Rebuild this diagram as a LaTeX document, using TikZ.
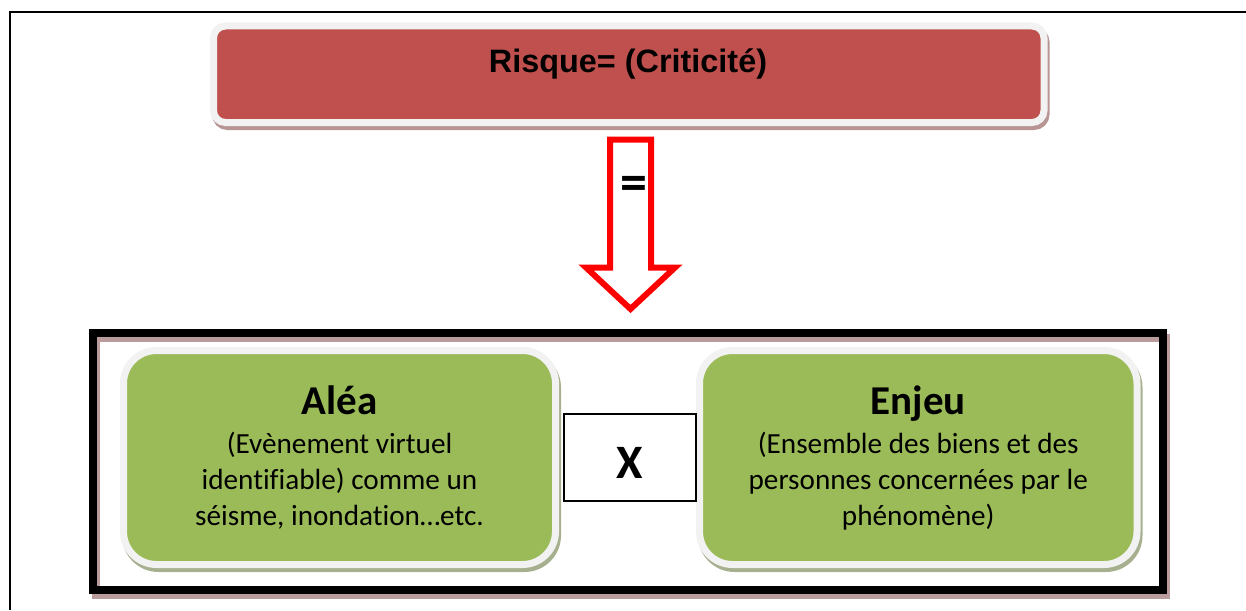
\documentclass[tikz,border=0pt]{standalone}
\usepackage{fontspec}
\setmainfont{Carlito}[Ligatures=NoCommon]
\newfontfamily\arialfont{Liberation Sans}
\usetikzlibrary{shadows}
\definecolor{rougebox}{HTML}{C0504D}
\definecolor{vertbox}{HTML}{9BBB59}
\definecolor{bord}{HTML}{F2F2F2}
\definecolor{ombrerouge}{HTML}{B89595}
\definecolor{ombreverte}{HTML}{A6B08E}
\definecolor{ombrecadre}{HTML}{BA9C9C}
\newcommand\titrevert{\fontsize{20.5}{24}\selectfont\bfseries}

\begin{document}
\begin{tikzpicture}[x=0.5pt, y=-0.5pt,
  boite/.style={draw=bord, line width=3.5pt, inner sep=0pt},
  risque/.style={boite, fill=rougebox, rounded corners=6pt, minimum width=415.25pt, minimum height=48.25pt,
    general shadow={draw=ombrerouge, fill=ombrerouge, line width=3.5pt, shadow xshift=1pt, shadow yshift=-2pt}},
  vert/.style={boite, fill=vertbox, rounded corners=16.5pt, minimum height=107pt, align=center,
    font=\fontsize{14.6}{18}\selectfont,
    general shadow={draw=ombreverte, fill=ombreverte, line width=3.5pt, shadow xshift=1pt, shadow yshift=-2pt}},
  croix/.style={draw, line width=0.75pt, fill=white, minimum width=66pt, minimum height=43.5pt, inner sep=0pt,
    text height=20.5pt, text depth=0pt, font=\fontsize{24}{28}\selectfont\bfseries},
  fleche/.style={draw=red, line width=3pt, fill=white, line join=miter},
  cadre/.style={line width=4pt}]
\useasboundingbox (0,0) rectangle (1246,610);
\draw[line width=1pt] (10,610) |- (1246,12.5);

\node[risque] (risq) at (628.75,74.25) {};
\node[anchor=base, font=\arialfont\fontsize{16.2}{19}\selectfont\bfseries] (risqtxt) at (628,73) {Risque= (Criticité)};

\draw[fleche] (610,139.5) -- (651,139.5) -- (651,267.5) -- (675,267.5) -- (630.5,309) -- (586,267.5) -- (610,267.5) -- cycle;
\node[font=\fontsize{27}{30}\selectfont\bfseries, inner sep=0pt] (egal) at (634,188.5) {=};

\draw[cadre, ombrecadre] (96,338) rectangle (1166,595);
\draw[cadre] (93,333) rectangle (1163,590);

\node[vert, minimum width=216pt] (alea) at (339.5,457.5)
  {{\titrevert Aléa}\\[1.5pt](Evènement virtuel\\identifiable) comme un\\séisme, inondation…etc.};
\node[vert, minimum width=218.75pt] (enjeu) at (918.25,457.5)
  {{\titrevert Enjeu}\\[1.5pt](Ensemble des biens et des\\personnes concernées par le\\phénomène)};

\node[croix] (fois) at (630,457.5) {X};
\end{tikzpicture}
\end{document}
